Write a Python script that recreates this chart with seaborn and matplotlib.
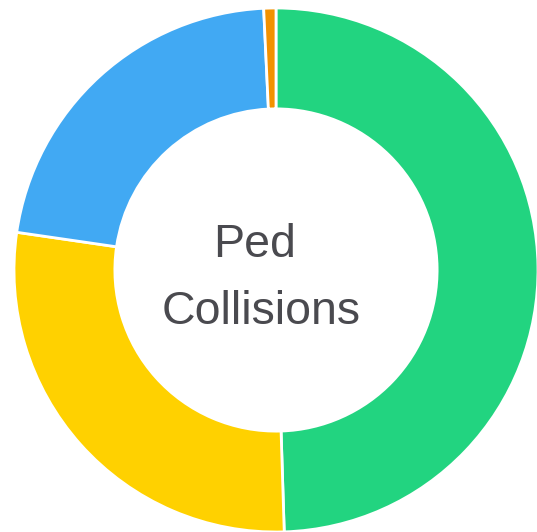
import matplotlib
matplotlib.use('Agg')
import matplotlib.pyplot as plt
import seaborn as sns

# Data
categories = ['Green', 'Yellow', 'Blue', 'Orange']
values = [49.5, 27.8, 21.95, 0.75]
colors = ['#22D480', '#FFD100', '#41A9F3', '#F39200']
center_lines = ['Ped', 'Collisions']

sns.set_theme(style='white')
plt.rcParams['font.family'] = ['Liberation Sans', 'DejaVu Sans']

fig = plt.figure(figsize=(5.37, 5.32), dpi=100)
ax = fig.add_axes([0, 0, 1, 1])

ax.pie(values, colors=colors, startangle=90, counterclock=False,
       radius=1.0,
       wedgeprops=dict(width=0.385, edgecolor='white', linewidth=2))

# center label, one line at a time
ax.text(-0.08, 0.05, center_lines[0], ha='center', va='baseline',
        fontsize=33.5, color='#4A4A4F')
ax.text(-0.057, -0.205, center_lines[1], ha='center', va='baseline',
        fontsize=33.5, color='#4A4A4F')

# center of ring sits at (276, 270) px, radius 262 px
ax.set_aspect('auto')
ax.set_xlim(-276 / 262, (537 - 276) / 262)
ax.set_ylim(-(532 - 270) / 262, 270 / 262)
ax.axis('off')

fig.savefig('out.png', dpi=100, facecolor='white')
